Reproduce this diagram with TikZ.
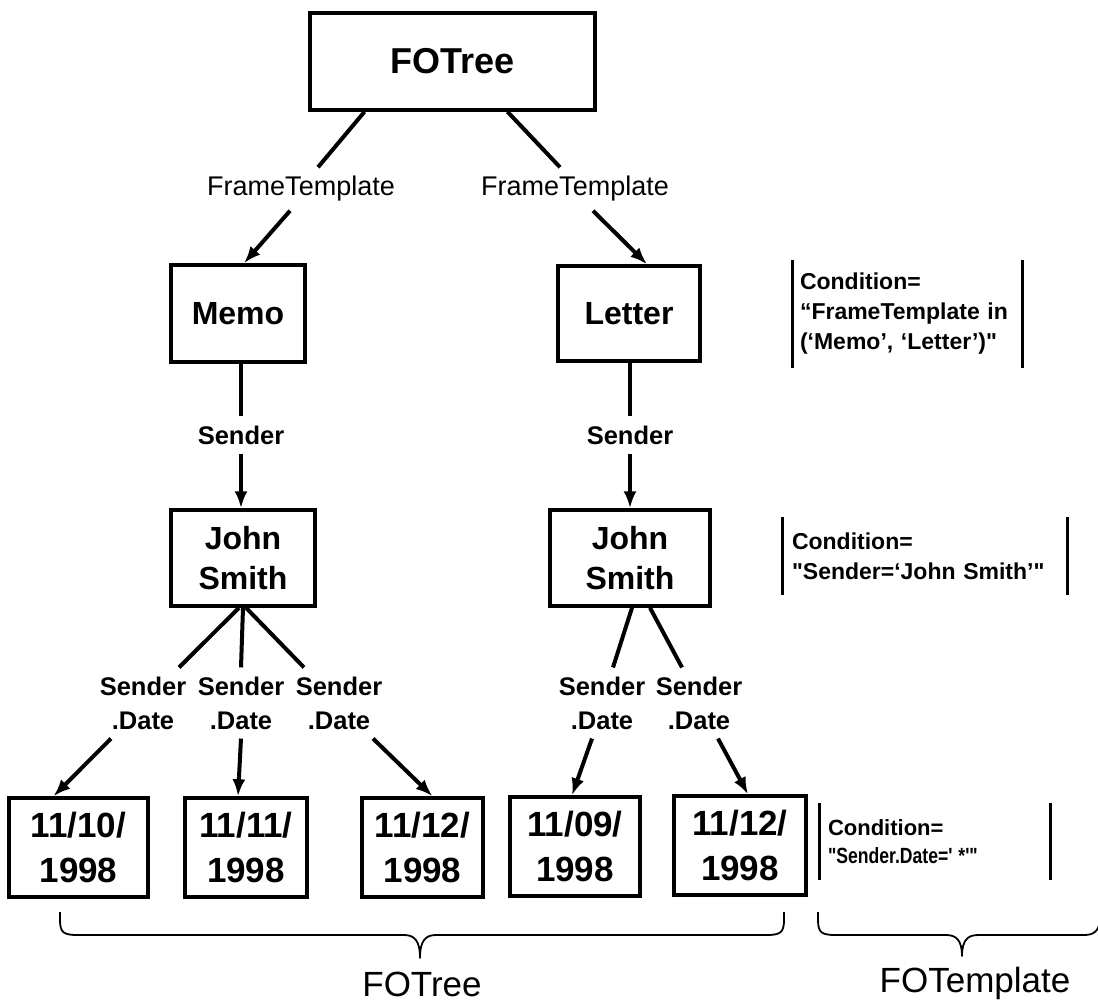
\documentclass[tikz,border=0pt]{standalone}
\usepackage{fontspec}
\usepackage{graphicx}
\setmainfont{Liberation Sans}[Ligatures=TeXOff]
\usetikzlibrary{arrows.meta}
\newcommand\fsz[2]{\fontsize{#1}{#2}\selectfont}
\begin{document}
\begin{tikzpicture}[x=1pt,y=-1pt,
  box/.style={draw, line width=3.5pt, inner sep=0pt, align=center, font=\bfseries\fsz{32}{40}},
  datebox/.style={box, minimum height=99pt, font=\bfseries\fsz{35}{45}},
  lbl/.style={inner xsep=2pt, inner ysep=9pt, align=center, font=\bfseries\fsz{25.5}{34}},
  ftlbl/.style={lbl, font=\fsz{27}{34}},
  conn/.style={line width=4pt},
  arr/.style={conn, -{Latex[length=17pt,width=13pt]}},
  cond/.style={align=left, inner ysep=0pt, font=\bfseries\fsz{23}{30}},
  bar/.style={line width=3pt},
  bracepath/.style={line width=1.8pt, line join=round},
  grp/.style={inner sep=0pt, font=\fsz{35}{40}}]
\useasboundingbox (0,0) rectangle (1098,1004);

% boxes
\node[box, minimum width=285pt, minimum height=97pt, font=\bfseries\fsz{36}{40}] (fotree) at (452.5,61.5) {FOTree};
\node[box, minimum width=134pt, minimum height=97pt] (memo) at (238,313.5) {Memo};
\node[box, minimum width=142pt, minimum height=95pt] (letter) at (629,313.5) {Letter};
\node[box, minimum width=144pt, minimum height=96pt] (johnL) at (243,558) {John\\Smith};
\node[box, minimum width=160pt, minimum height=96pt] (johnR) at (630,558) {John\\Smith};
\node[datebox, minimum width=139pt] (d1) at (78.5,847.5) {11/10/\\1998};
\node[datebox, minimum width=122pt] (d2) at (246,847.5) {11/11/\\1998};
\node[datebox, minimum width=121pt] (d3) at (422.5,847.5) {11/12/\\1998};
\node[datebox, minimum width=130pt] (d4) at (575,846.5) {11/09/\\1998};
\node[datebox, minimum width=132pt] (d5) at (740,845.5) {11/12/\\1998};

% edge labels
\node[ftlbl] (ftL) at (301,189) {FrameTemplate};
\node[ftlbl] (ftR) at (575,189) {FrameTemplate};
\node[lbl] (sL) at (241,435) {Sender};
\node[lbl] (sR) at (630,435) {Sender};
\node[lbl] (sdL1) at (143,703) {Sender\\.Date};
\node[lbl] (sdL2) at (241,703) {Sender\\.Date};
\node[lbl] (sdL3) at (339,703) {Sender\\.Date};
\node[lbl] (sdR1) at (602,703) {Sender\\.Date};
\node[lbl] (sdR2) at (699,703) {Sender\\.Date};

% connectors
\draw[conn] ([xshift=-88pt]fotree.south) -- ([xshift=17pt]ftL.north);
\draw[arr] ([xshift=-11pt]ftL.south) -- ([xshift=6pt]memo.north);
\draw[conn] ([xshift=55pt]fotree.south) -- ([xshift=-15pt]ftR.north);
\draw[arr] ([xshift=18pt]ftR.south) -- ([xshift=18pt]letter.north);
\draw[conn] ([xshift=3pt]memo.south) -- (sL.north);
\draw[arr] (sL.south) -- ([xshift=-2pt]johnL.north);
\draw[conn] ([xshift=1pt]letter.south) -- (sR.north);
\draw[arr] (sR.south) -- (johnR.north);
\draw[conn] ([xshift=-4pt]johnL.south) -- ([xshift=36pt]sdL1.north);
\draw[conn] (johnL.south) -- (sdL2.north);
\draw[conn] ([xshift=3pt]johnL.south) -- ([xshift=-35pt]sdL3.north);
\draw[arr] ([xshift=-32pt]sdL1.south) -- ([xshift=-25pt]d1.north);
\draw[arr] (sdL2.south) -- ([xshift=-8pt]d2.north);
\draw[arr] ([xshift=34pt]sdL3.south) -- ([xshift=10pt]d3.north);
\draw[conn] ([xshift=2pt]johnR.south) -- ([xshift=11pt]sdR1.north);
\draw[conn] ([xshift=20pt]johnR.south) -- ([xshift=-17pt]sdR2.north);
\draw[arr] ([xshift=-10pt]sdR1.south) -- ([xshift=-3pt]d4.north);
\draw[arr] ([xshift=19pt]sdR2.south) -- ([xshift=8pt]d5.north);

% conditions
\node[cond, text width=215pt, inner xsep=7pt, minimum height=108pt] (c1) at (907.5,314)
  {Condition=\\“FrameTemplate in\\(‘Memo’, ‘Letter’)"};
\node[cond, text width=266pt, inner xsep=9pt, minimum height=78pt] (c2) at (925,556)
  {Condition=\\"Sender=‘John Smith’"};
\node[cond, text width=214pt, inner xsep=8pt, minimum height=77pt, font=\bfseries\fsz{22}{28}] (c3) at (935,841.5)
  {Condition=\\\scalebox{0.8}[1]{"Sender.Date=' *'"}};
\foreach \c in {c1,c2,c3}{
  \draw[bar] (\c.north west) -- (\c.south west);
  \draw[bar] (\c.north east) -- (\c.south east);
}

% braces
\draw[bracepath] (60,912) -- (60,920) .. controls (60,933) and (64,935) .. (78,935) -- (404,935)
  .. controls (414,935) and (420,940) .. (420,958) .. controls (420,940) and (426,935) .. (436,935)
  -- (766,935) .. controls (780,935) and (784,933) .. (784,920) -- (784,912);
\begin{scope}
\clip (0,0) rectangle (1098,1004);
\draw[bracepath] (818,912) -- (818,920) .. controls (818,933) and (822,935) .. (836,935) -- (946,935)
  .. controls (956,935) and (962,940) .. (962,956) .. controls (962,940) and (968,935) .. (978,935)
  -- (1084,935) .. controls (1094,935) and (1098,931) .. (1100,922);
\end{scope}
\node[grp] (gtree) at (422,984) {FOTree};
\node[grp] (gtpl) at (975,983) {FOTemplate};
\end{tikzpicture}
\end{document}
